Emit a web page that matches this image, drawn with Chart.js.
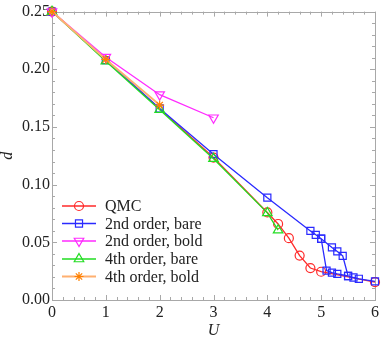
<!DOCTYPE html>
<html>
<head>
<meta charset="utf-8">
<script src="https://cdn.jsdelivr.net/npm/chart.js"></script>
<style>
  body { margin: 0; background: #fff; }
  #wrap { width: 382px; height: 342px; }
</style>
</head>
<body>
<div id="wrap"><canvas id="chart"></canvas></div>
<script>
// values
const xTicks = [0, 1, 2, 3, 4, 5, 6];
const yTicks = [0, 0.05, 0.10, 0.15, 0.20, 0.25];

const qmcU = [0, 3, 4, 4.2, 4.4, 4.6, 4.8, 5.0, 6.0];
const qmcD = [0.25, 0.1235, 0.0759, 0.0659, 0.0536, 0.0385, 0.0277, 0.0245, 0.0155];

const bareU = [0, 1, 2, 3, 4, 4.8, 4.9, 5.0, 5.2, 5.3, 5.4, 5.5, 5.6, 5.7, 6.0];
const bareD = [0.25, 0.208, 0.166, 0.1264, 0.0887, 0.0599, 0.0565, 0.0531, 0.0456, 0.0421, 0.0383, 0.0208, 0.0195, 0.0184, 0.0162];
// lower branch of 2nd order, bare
const bareLowU = [5.0, 5.1, 5.2, 5.3, 5.5];
const bareLowD = [0.0531, 0.0255, 0.0237, 0.0226, 0.0208];

const boldU = [0, 1, 2, 3];
const boldD = [0.25, 0.2105, 0.178, 0.158];

const bare4U = [0, 1, 2, 3, 4, 4.2];
const bare4D = [0.25, 0.207, 0.165, 0.1225, 0.0755, 0.0605];

const bold4U = [0, 1, 2];
const bold4D = [0.25, 0.2085, 0.169];

const pts = (xs, ys) => xs.map((x, i) => ({ x: x, y: ys[i] }));

const serif = '"Liberation Serif", "Times New Roman", serif';

const series = [
  { label: 'QMC', xs: qmcU, ys: qmcD, color: '#ff2a2a', line: '#ff2a2a', style: 'circle', r: 4.5, rot: 0, lw: 1.3, order: 5 },
  { label: '2nd order, bare', xs: bareU, ys: bareD, color: '#2a2aff', line: '#2a2aff', style: 'rect', r: 5, rot: 0, lw: 1.3, order: 4 },
  { label: '2nd order, bold', xs: boldU, ys: boldD, color: '#ff2aff', line: '#ff2aff', style: 'triangle', r: 5.5, rot: 180, lw: 1.3, order: 2 },
  { label: '4th order, bare', xs: bare4U, ys: bare4D, color: '#22dd22', line: '#22dd22', style: 'triangle', r: 5.5, rot: 0, lw: 1.3, order: 3 },
  { label: '4th order, bold', xs: bold4U, ys: bold4D, color: '#ff8000', line: '#ffb070', style: 'star', r: 4.5, rot: 0, lw: 2, order: 1 }
];

const datasets = series.map(s => ({
  label: s.label,
  data: pts(s.xs, s.ys),
  showLine: true,
  borderColor: s.line,
  borderWidth: s.lw,
  pointStyle: s.style,
  pointRadius: s.r,
  pointRotation: s.rot,
  pointBorderColor: s.color,
  pointBackgroundColor: 'rgba(0,0,0,0)',
  pointBorderWidth: 1.2,
  clip: false,
  order: s.order
}));
datasets.push({
  label: '',
  data: pts(bareLowU, bareLowD),
  showLine: true,
  borderColor: '#2a2aff',
  borderWidth: 1.3,
  pointStyle: 'rect',
  pointRadius: 5,
  pointBorderColor: '#2a2aff',
  pointBackgroundColor: 'rgba(0,0,0,0)',
  pointBorderWidth: 1.2,
  clip: false,
  order: 4
});

// frame with inward major and minor ticks
const frameTicks = {
  id: 'frameTicks',
  beforeDatasetsDraw(chart) {
    const { ctx, chartArea: a, scales: { x, y } } = chart;
    ctx.save();
    ctx.strokeStyle = '#a8a8a8';
    ctx.lineWidth = 1;
    ctx.strokeRect(Math.round(a.left) + 0.5, Math.round(a.top) + 0.5,
      Math.round(a.right - a.left), Math.round(a.bottom - a.top));
    ctx.beginPath();
    for (let i = 0; i <= 30; i++) {
      const px = Math.round(x.getPixelForValue(i * 0.2)) + 0.5;
      const len = i % 5 === 0 ? 5 : 3;
      ctx.moveTo(px, a.bottom); ctx.lineTo(px, a.bottom - len);
      ctx.moveTo(px, a.top); ctx.lineTo(px, a.top + len);
    }
    for (let j = 0; j <= 25; j++) {
      const py = Math.round(y.getPixelForValue(j * 0.01)) + 0.5;
      const len = j % 5 === 0 ? 5 : 3;
      ctx.moveTo(a.left, py); ctx.lineTo(a.left + len, py);
      ctx.moveTo(a.right, py); ctx.lineTo(a.right - len, py);
    }
    ctx.stroke();
    ctx.restore();
  }
};

// legend inside the plot, line with marker on it
const innerLegend = {
  id: 'innerLegend',
  afterDatasetsDraw(chart) {
    const ctx = chart.ctx;
    const rows = [206, 223.5, 241, 259, 276.5];
    ctx.save();
    series.forEach((s, i) => {
      const yy = rows[i];
      ctx.strokeStyle = s.line;
      ctx.lineWidth = s.lw;
      ctx.beginPath();
      ctx.moveTo(62, yy); ctx.lineTo(96, yy);
      ctx.stroke();
      ctx.strokeStyle = s.color;
      ctx.fillStyle = 'rgba(0,0,0,0)';
      ctx.lineWidth = 1.2;
      Chart.helpers.drawPoint(ctx, { pointStyle: s.style, radius: s.r, rotation: s.rot, borderWidth: 1.2 }, 79, yy);
      ctx.fillStyle = '#222';
      ctx.font = '16px ' + serif;
      ctx.textAlign = 'left';
      ctx.textBaseline = 'middle';
      ctx.fillText(s.label, 105, yy + 1);
    });
    ctx.restore();
  },
  afterDraw(chart) {
    const { ctx, chartArea: a, scales: { x } } = chart;
    ctx.save();
    ctx.fillStyle = '#222';
    ctx.font = 'italic 16px ' + serif;
    ctx.textAlign = 'center';
    ctx.textBaseline = 'middle';
    ctx.fillText('U', x.getPixelForValue(3), 331);
    ctx.translate(8, (a.top + a.bottom) / 2);
    ctx.rotate(-Math.PI / 2);
    ctx.fillText('d', 0, 0);
    ctx.restore();
  }
};

new Chart(document.getElementById('chart'), {
  type: 'scatter',
  data: { datasets: datasets },
  options: {
    responsive: true,
    maintainAspectRatio: false,
    animation: false,
    layout: { padding: { top: 8, right: 6, left: 0, bottom: 0 } },
    plugins: {
      legend: { display: false },
      tooltip: { enabled: false }
    },
    scales: {
      x: {
        type: 'linear',
        min: 0,
        max: 6,
        afterBuildTicks: s => { s.ticks = xTicks.map(v => ({ value: v })); },
        afterFit: s => { s.height = 42; },
        grid: { display: false, drawTicks: false },
        border: { display: false },
        ticks: {
          padding: 3,
          color: '#222',
          font: { family: serif, size: 16 },
          callback: v => String(v)
        }
      },
      y: {
        type: 'linear',
        min: 0,
        max: 0.25,
        afterBuildTicks: s => { s.ticks = yTicks.map(v => ({ value: v })); },
        afterFit: s => { s.width = 52; },
        grid: { display: false, drawTicks: false },
        border: { display: false },
        ticks: {
          padding: 2,
          color: '#222',
          font: { family: serif, size: 16 },
          callback: v => v.toFixed(2)
        }
      }
    }
  },
  plugins: [frameTicks, innerLegend]
});
</script>
</body>
</html>
